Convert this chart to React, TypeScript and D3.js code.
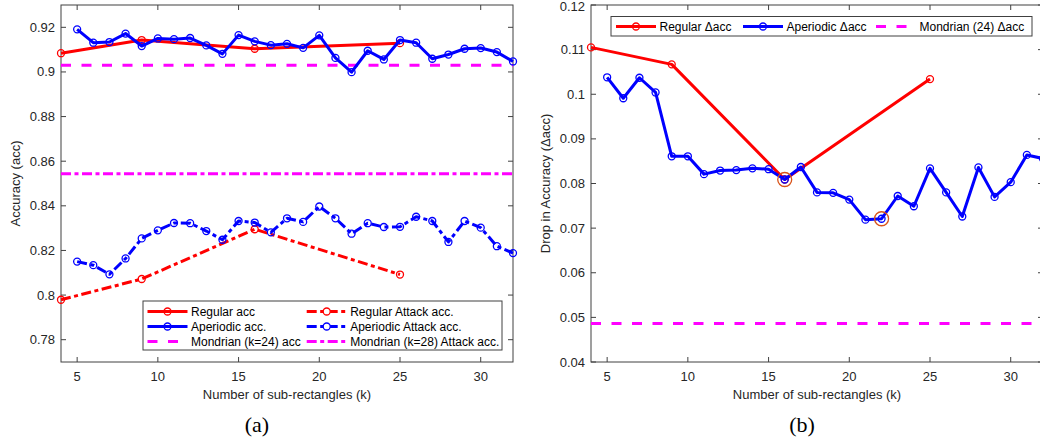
import * as d3 from "d3";
import React from "react";

// k values
const regularK = [4, 9, 16, 25];
const aperiodicK = [5, 6, 7, 8, 9, 10, 11, 12, 13, 14, 15, 16, 17, 18, 19, 20, 21, 22, 23, 24, 25, 26, 27, 28, 29, 30, 31, 32];

// (a) accuracy
const regularAcc = [0.9084, 0.9143, 0.9104, 0.9129];
const regularAttack = [0.7979, 0.8072, 0.8295, 0.8092];
const aperiodicAcc = [0.9191, 0.9131, 0.9134, 0.9172, 0.9116, 0.915, 0.9147, 0.9152, 0.9119, 0.9081, 0.9165, 0.9137, 0.912, 0.9126, 0.9108, 0.9164, 0.9063, 0.8999, 0.9095, 0.9056, 0.9143, 0.9131, 0.9059, 0.9078, 0.9104, 0.9107, 0.9089, 0.9047];
const aperiodicAttack = [0.815, 0.8134, 0.8093, 0.8164, 0.8254, 0.829, 0.8323, 0.8322, 0.8287, 0.8248, 0.8332, 0.8325, 0.8281, 0.8344, 0.8328, 0.8397, 0.8344, 0.8275, 0.8322, 0.8305, 0.8306, 0.8351, 0.8332, 0.8238, 0.8332, 0.8302, 0.8219, 0.8188];
const mondrianAcc = 0.903;
const mondrianAttack = 0.8544;

// (b) drop in accuracy
const regularDrop = [0.1105, 0.1067, 0.0809, 0.1034];
const aperiodicDrop = [0.1038, 0.0991, 0.1037, 0.1004, 0.0861, 0.0861, 0.0821, 0.0829, 0.083, 0.0834, 0.0832, 0.0809, 0.0837, 0.078, 0.0779, 0.0764, 0.0719, 0.0721, 0.0772, 0.0749, 0.0834, 0.078, 0.0726, 0.0836, 0.077, 0.0803, 0.0864, 0.0856];
const mondrianDrop = 0.0486;
const highlightK = [16, 22];

const xTicks = [5, 10, 15, 20, 25, 30];
const yTicksA = [0.78, 0.8, 0.82, 0.84, 0.86, 0.88, 0.9, 0.92];
const yTicksB = [0.04, 0.05, 0.06, 0.07, 0.08, 0.09, 0.1, 0.11, 0.12];

const RED = "#ff0000";
const BLUE = "#0000ff";
const MAG = "#ff00ff";
const ORANGE = "#d95319";
const AX = "#404040";
const TXT = "#262626";
const FONT = "'Liberation Sans', Arial, sans-serif";
const SERIF = "'Liberation Serif', 'Times New Roman', serif";
const DASH = "10,10.5";
const DASHDOT = "10,3.5,4,3.5";
const DELTA = "\u0394";

const top = 5, bottom = 362;

function Axes({ x, y, yTicks, fmt }) {
  const [x0, x1] = x.range();
  return (
    <g>
      <rect x={x0} y={top} width={x1 - x0} height={bottom - top} fill="none" stroke={AX} strokeWidth={1} />
      {xTicks.map((t) => (
        <g key={"x" + t}>
          <line x1={x(t)} x2={x(t)} y1={bottom} y2={bottom - 5} stroke={AX} />
          <line x1={x(t)} x2={x(t)} y1={top} y2={top + 5} stroke={AX} />
          <text x={x(t)} y={381} textAnchor="middle" fontSize={13} fill={TXT} fontFamily={FONT}>{t}</text>
        </g>
      ))}
      {yTicks.map((t) => (
        <g key={"y" + t}>
          <line x1={x0} x2={x0 + 5} y1={y(t)} y2={y(t)} stroke={AX} />
          <line x1={x1} x2={x1 - 5} y1={y(t)} y2={y(t)} stroke={AX} />
          <text x={x0 - 6} y={Math.max(y(t) + 4.5, 11)} textAnchor="end" fontSize={13} fill={TXT} fontFamily={FONT}>{fmt(t)}</text>
        </g>
      ))}
    </g>
  );
}

function Series({ ks, vals, x, y, color, dash }) {
  const line = d3.line().x((d) => x(d[0])).y((d) => y(d[1]));
  const pts = ks.map((k, i) => [k, vals[i]]);
  return (
    <g>
      <path d={line(pts)} fill="none" stroke={color} strokeWidth={3} strokeDasharray={dash} strokeLinejoin="round" />
      {pts.map((p, i) => (
        <circle key={i} cx={x(p[0])} cy={y(p[1])} r={3.5} fill="none" stroke={color} strokeWidth={1.3} />
      ))}
    </g>
  );
}

function LegendLine({ x1, x2, yy, color, dash, marker }) {
  return (
    <g>
      <line x1={x1} x2={x2} y1={yy} y2={yy} stroke={color} strokeWidth={3} strokeDasharray={dash} />
      {marker && <circle cx={(x1 + x2) / 2} cy={yy} r={3.5} fill={marker === "open" ? "#fff" : "none"} stroke={color} strokeWidth={1.3} />}
    </g>
  );
}

const fmt = (t) => d3.format("~g")(+t.toFixed(2));

export default function App() {
  const xa = d3.scaleLinear().domain([4, 32]).range([61, 513]);
  const ya = d3.scaleLinear().domain([0.77, 0.93]).range([bottom, top]);
  const xb = d3.scaleLinear().domain([4, 32]).range([591, 1043]);
  const yb = d3.scaleLinear().domain([0.04, 0.12]).range([bottom, top]);

  const legA = [
    { col: 0, row: 0, label: "Regular acc", color: RED, dash: null, marker: "ln" },
    { col: 0, row: 1, label: "Aperiodic acc.", color: BLUE, dash: null, marker: "ln" },
    { col: 0, row: 2, label: "Mondrian (k=24) acc", color: MAG, dash: DASH, marker: null },
    { col: 1, row: 0, label: "Regular Attack acc.", color: RED, dash: DASHDOT, marker: "open" },
    { col: 1, row: 1, label: "Aperiodic Attack acc.", color: BLUE, dash: DASHDOT, marker: "open" },
    { col: 1, row: 2, label: "Mondrian (k=28) Attack acc.", color: MAG, dash: DASHDOT, marker: null },
  ];
  const colX = [147.5, 306.7];

  const legB = [
    { x: 616, label: `Regular ${DELTA}acc`, color: RED, dash: null, marker: "ln" },
    { x: 743, label: `Aperiodic ${DELTA}acc`, color: BLUE, dash: null, marker: "ln" },
    { x: 876, label: `Mondrian (24) ${DELTA}acc`, color: MAG, dash: DASH, marker: null },
  ];

  return (
    <svg width={1040} height={437} style={{ position: "absolute", left: 0, top: 0, background: "#fff" }}>
      {/* (a) */}
      <Axes x={xa} y={ya} yTicks={yTicksA} fmt={fmt} />
      <line x1={xa(4)} x2={xa(32)} y1={ya(mondrianAcc)} y2={ya(mondrianAcc)} stroke={MAG} strokeWidth={3} strokeDasharray={DASH} />
      <line x1={xa(4)} x2={xa(32)} y1={ya(mondrianAttack)} y2={ya(mondrianAttack)} stroke={MAG} strokeWidth={3} strokeDasharray={DASHDOT} />
      <Series ks={regularK} vals={regularAttack} x={xa} y={ya} color={RED} dash={DASHDOT} />
      <Series ks={aperiodicK} vals={aperiodicAttack} x={xa} y={ya} color={BLUE} dash={DASHDOT} />
      <Series ks={regularK} vals={regularAcc} x={xa} y={ya} color={RED} dash={null} />
      <Series ks={aperiodicK} vals={aperiodicAcc} x={xa} y={ya} color={BLUE} dash={null} />
      <g>
        <rect x={143} y={301} width={359} height={49} fill="#fff" stroke={AX} />
        {legA.map((d) => {
          const yy = 311.5 + d.row * 15;
          const lx = colX[d.col];
          return (
            <g key={d.label}>
              <LegendLine x1={lx} x2={lx + 40} yy={yy} color={d.color} dash={d.dash} marker={d.marker} />
              <text x={lx + 43.5} y={yy + 4.3} fontSize={12} fontFamily={FONT} fill="#000">{d.label}</text>
            </g>
          );
        })}
      </g>
      <text transform={`translate(20,${(top + bottom) / 2}) rotate(-90)`} textAnchor="middle" fontSize={13} fill={TXT} fontFamily={FONT}>Accuracy (acc)</text>
      <text x={(61 + 513) / 2} y={399} textAnchor="middle" fontSize={13} fill={TXT} fontFamily={FONT}>Number of sub-rectangles (k)</text>
      <text x={257} y={432} textAnchor="middle" fontSize={22} fill="#000" fontFamily={SERIF}>(a)</text>

      {/* (b) */}
      <Axes x={xb} y={yb} yTicks={yTicksB} fmt={fmt} />
      <line x1={xb(4)} x2={xb(32)} y1={yb(mondrianDrop)} y2={yb(mondrianDrop)} stroke={MAG} strokeWidth={3} strokeDasharray={DASH} />
      <Series ks={regularK} vals={regularDrop} x={xb} y={yb} color={RED} dash={null} />
      <Series ks={aperiodicK} vals={aperiodicDrop} x={xb} y={yb} color={BLUE} dash={null} />
      {highlightK.map((k) => (
        <circle key={k} cx={xb(k)} cy={yb(aperiodicDrop[aperiodicK.indexOf(k)])} r={7} fill="none" stroke={ORANGE} strokeWidth={1.3} />
      ))}
      <g>
        <rect x={611} y={16.5} width={421} height={19.5} fill="#fff" stroke={AX} />
        {legB.map((d) => (
          <g key={d.label}>
            <LegendLine x1={d.x} x2={d.x + 40} yy={26.5} color={d.color} dash={d.dash} marker={d.marker} />
            <text x={d.x + 43.5} y={31} fontSize={12} fontFamily={FONT} fill="#000">{d.label}</text>
          </g>
        ))}
      </g>
      <text transform={`translate(550,${(top + bottom) / 2}) rotate(-90)`} textAnchor="middle" fontSize={13} fill={TXT} fontFamily={FONT}>{`Drop in Accuracy (${DELTA}acc)`}</text>
      <text x={(591 + 1043) / 2} y={399} textAnchor="middle" fontSize={13} fill={TXT} fontFamily={FONT}>Number of sub-rectangles (k)</text>
      <text x={802} y={432} textAnchor="middle" fontSize={22} fill="#000" fontFamily={SERIF}>(b)</text>
    </svg>
  );
}
